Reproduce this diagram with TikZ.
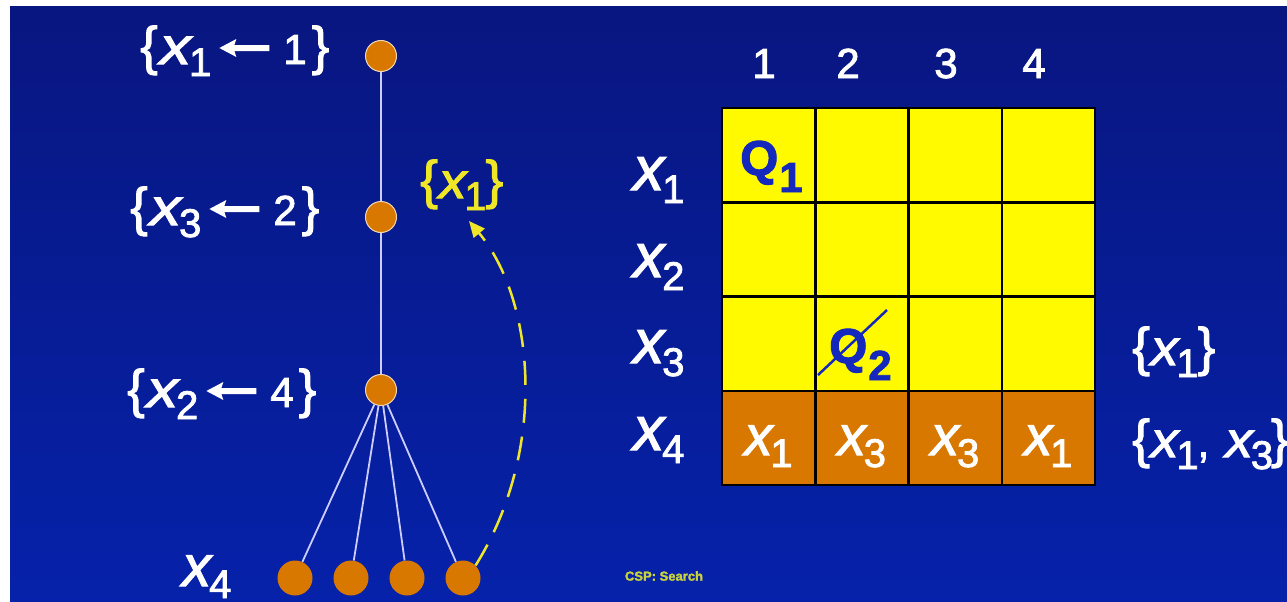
\documentclass[tikz,border=0pt]{standalone}
\usepackage{fontspec}
\usepackage{graphicx}
\setmainfont[FakeBold=2]{Liberation Sans}
\usetikzlibrary{arrows.meta}
\definecolor{bgtop}{RGB}{8,22,128}
\definecolor{bgbot}{RGB}{6,34,170}
\definecolor{qorange}{RGB}{216,120,0}
\definecolor{qyellow}{RGB}{255,250,0}
\definecolor{qblue}{RGB}{20,40,190}
\definecolor{edgec}{RGB}{205,205,255}
\definecolor{dashy}{RGB}{240,230,40}
\definecolor{csp}{RGB}{200,210,60}
% braces, variable with subscript, arrow
\newcommand\LB{{\fontsize{53}{56}\selectfont\{}}
\newcommand\RB{{\fontsize{53}{56}\selectfont\}}}
% #1 size of x, #2 horizontal scale of x, #3 drop of subscript (pt), #4 subscript
\newcommand\xs[4]{\scalebox{#2}[1]{\fontsize{#1}{#1}\selectfont\itshape x}\kern-2pt\raisebox{-#3pt}{\fontsize{40}{40}\selectfont #4}}
\newcommand\larr{\tikz[baseline={(0pt,-16pt)}]\fill[color=.] (0pt,0pt) -- (17pt,9pt) -- (15pt,3pt) -- (50pt,3pt) -- (50pt,-3pt) -- (15pt,-3pt) -- (17pt,-9pt) -- cycle;}
\newcommand\assign[2]{\LB\kern2pt\xs{52}{1.2}{12}{#1}\kern8pt\larr\kern14pt{\fontsize{42}{42}\selectfont #2}\kern5pt\RB}
\begin{document}
\begin{tikzpicture}[x=1pt,y=-1pt,
  lbl/.style={text=white,font=\fontsize{42}{44}\selectfont,inner sep=0pt},
  ylbl/.style={lbl,text=dashy},
  dot/.style={circle,fill=qorange,draw=white!70!qorange,line width=1pt,minimum size=31pt,inner sep=0pt},
  leaf/.style={circle,fill=qorange,minimum size=35pt,inner sep=0pt},
  edge/.style={draw=edgec,line width=1.8pt},
  cell/.style={draw=black,line width=2.5pt,minimum width=93.25pt,minimum height=94.25pt,inner sep=0pt},
  qtext/.style={text=qblue,font=\fontsize{49}{50}\selectfont\bfseries,inner sep=0pt},
  back/.style={draw=dashy,line width=2.5pt,dash pattern=on 24pt off 14pt,-{Triangle[length=16pt,width=14pt]}}
]
\useasboundingbox (0,0) rectangle (1287,602);
\fill[white] (0,0) rectangle (1287,602);
\shade[top color=bgtop,bottom color=bgbot] (10,7) rectangle (1287,602);

% tree
\node[dot] (n1) at (381,56) {};
\node[dot] (n2) at (381,217) {};
\node[dot] (n3) at (381,390) {};
\node[leaf] (l1) at (295,578) {};
\node[leaf] (l2) at (351,578) {};
\node[leaf] (l3) at (407,578) {};
\node[leaf] (l4) at (463,578) {};
\draw[edge] (n1) -- (n2);
\draw[edge] (n2) -- (n3);
\foreach \l in {l1,l2,l3,l4} \draw[edge] (n3) -- (\l);

\node[lbl,anchor=base west] (t1) at (140,64) {\assign{1}{1}};
\node[lbl,anchor=base west] (t2) at (130,225) {\assign{3}{2}};
\node[lbl,anchor=base west] (t3) at (127,407) {\assign{2}{4}};
\node[lbl,anchor=base west] (t4) at (182,586) {\xs{58}{1}{12}{4}};
\node[ylbl,anchor=base west] (ylab) at (420,198) {\LB\kern1pt\xs{50}{1.1}{12}{1}\kern-1pt\RB};
\coordinate (tip) at (469,221);
\draw[back] (l4.north east) .. controls (548,450) and (535,300) .. (tip);

% grid
\foreach \r in {1,2,3} \foreach \c in {1,...,4}
  \node[cell,fill=qyellow] (c\r\c) at ({722+93.25*(\c-0.5)},{108+94.25*(\r-0.5)}) {};
\foreach \c in {1,...,4}
  \node[cell,fill=qorange] (c4\c) at ({722+93.25*(\c-0.5)},{108+94.25*3.5}) {};

\node[lbl,anchor=base] (h1) at (764,78) {1};
\node[lbl,anchor=base] (h2) at (848,78) {2};
\node[lbl,anchor=base] (h3) at (946,78) {3};
\node[lbl,anchor=base] (h4) at (1034,78) {4};

\node[lbl,anchor=base west] (r1) at (633,190) {\xs{62}{1}{13}{1}};
\node[lbl,anchor=base west] (r2) at (633,277) {\xs{62}{1}{13}{2}};
\node[lbl,anchor=base west] (r3) at (633,363) {\xs{62}{1}{13}{3}};
\node[lbl,anchor=base west] (r4) at (633,450) {\xs{62}{1}{13}{4}};

\node[qtext,anchor=base west] (q1) at (740,175) {Q\kern1pt\raisebox{-17pt}{\fontsize{42}{42}\selectfont 1}};
\node[qtext,anchor=base west] (q2) at (829,363) {Q\kern1pt\raisebox{-17pt}{\fontsize{42}{42}\selectfont 2}};
\draw[qblue,line width=2.5pt] ([shift={(-11pt,-12pt)}]q2.base west) -- ([shift={(58pt,53pt)}]q2.base west);

\node[lbl,anchor=base] at (c41.center |- 0,455) {\xs{56}{1}{12}{1}};
\node[lbl,anchor=base] at (c42.center |- 0,455) {\xs{56}{1}{12}{3}};
\node[lbl,anchor=base] at (c43.center |- 0,455) {\xs{56}{1}{12}{3}};
\node[lbl,anchor=base] at (c44.center |- 0,455) {\xs{56}{1}{12}{1}};

\node[lbl,anchor=base west] (s3) at (1132,365) {\LB\kern1pt\xs{50}{1.1}{12}{1}\kern-1pt\RB};
\node[lbl,anchor=base west] (s4) at (1132,457) {\LB\kern1pt\xs{50}{1.1}{12}{1}\kern-1pt,\kern16pt\xs{50}{1.1}{12}{3}\kern-2pt\RB};

\node[text=csp,font=\fontsize{13}{15}\selectfont\bfseries,inner sep=0pt] (csp) at (664,576) {CSP: Search};
\end{tikzpicture}
\end{document}
